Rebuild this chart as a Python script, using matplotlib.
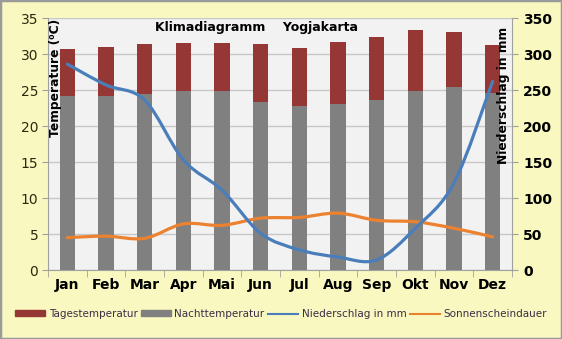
"""Klimadiagramm Yogjakarta - Temperatur, Niederschlag, Sonnenscheindauer."""

import matplotlib
matplotlib.use("Agg")
import matplotlib.pyplot as plt
import numpy as np
from matplotlib.patches import PathPatch, Rectangle
from matplotlib.path import Path
from matplotlib.lines import Line2D

MONTHS = ["Jan", "Feb", "Mar", "Apr", "Mai", "Jun", "Jul", "Aug", "Sep", "Okt", "Nov", "Dez"]
DAY_TEMP = [30.7, 31.0, 31.4, 31.5, 31.5, 31.4, 30.9, 31.7, 32.3, 33.3, 33.1, 31.3]
NIGHT_TEMP = [24.2, 24.2, 24.4, 24.8, 24.8, 23.4, 22.8, 23.0, 23.6, 24.8, 25.4, 24.6]
RAIN_MM = [286, 257, 236, 153, 111, 51, 28, 18, 14, 58, 121, 262]
SUNSHINE = [45, 47, 44, 64, 62, 72, 73, 79, 69, 67, 58, 46]

FIG_BG = "#f8f8c0"
PLOT_BG = "#f2f2f2"
RED = "#953735"
GRAY = "#808080"
BLUE = "#4a7ebb"
ORANGE = "#ec8230"


def smooth_path(x, y):
    # Catmull-Rom curve through the points, drawn as cubic bezier segments
    pts = np.column_stack([x, y]).astype(float)
    verts = [pts[0]]
    codes = [Path.MOVETO]
    n = len(pts)
    for i in range(n - 1):
        p0 = pts[i - 1] if i > 0 else pts[i]
        p1, p2 = pts[i], pts[i + 1]
        p3 = pts[i + 2] if i + 2 < n else pts[i + 1]
        c1 = p1 + (p2 - p0) / 6.0
        c2 = p2 - (p3 - p1) / 6.0
        verts += [c1, c2, p2]
        codes += [Path.CURVE4] * 3
    return Path(verts, codes)


fig = plt.figure(figsize=(5.62, 3.39), dpi=100, facecolor=FIG_BG)
fig.patches.append(Rectangle((0, 0), 1, 1, transform=fig.transFigure, fill=False,
                             edgecolor="#9a9a9a", linewidth=2.5))

ax = fig.add_axes([48 / 562, 1 - 270 / 339, 464 / 562, 252 / 339])
ax.set_facecolor(PLOT_BG)
x = np.arange(len(MONTHS))
night = np.array(NIGHT_TEMP)
day = np.array(DAY_TEMP)

ax.bar(x, night, width=0.39, color=GRAY, zorder=2)
ax.bar(x, day - night, bottom=night, width=0.39, color=RED, zorder=2)

ax.set_xlim(-0.5, 11.5)
ax.set_ylim(0, 35)
ax.set_yticks(np.arange(0, 36, 5))
ax.set_xticks(x, MONTHS, fontweight="bold", fontsize=10, color="black")
ax.set_xticks(np.arange(-0.5, 12, 1), minor=True)
ax.tick_params(axis="x", which="major", length=0, pad=6)
ax.tick_params(axis="x", which="minor", length=5, color="#a0a0a0", direction="out")
ax.tick_params(axis="y", length=4, color="#a0a0a0", labelsize=10, labelcolor="#2a2a10", pad=3)
ax.grid(axis="y", color="#c8c8c8", linewidth=1, zorder=0)
for side in ("top", "right"):
    ax.spines[side].set_visible(False)
for side in ("left", "bottom"):
    ax.spines[side].set_color("#a0a0a0")

ax2 = ax.twinx()
ax2.set_ylim(0, 350)
ax2.set_yticks(np.arange(0, 351, 50))
ax2.tick_params(axis="y", length=4, color="#a0a0a0", labelsize=10, pad=4)
for lab in ax2.get_yticklabels():
    lab.set_fontweight("bold")
for side in ("top", "left", "bottom"):
    ax2.spines[side].set_visible(False)
ax2.spines["right"].set_color("#a0a0a0")

ax2.add_patch(PathPatch(smooth_path(x, SUNSHINE), fill=False, edgecolor=ORANGE,
                        linewidth=2.3, zorder=3, capstyle="round"))
ax2.add_patch(PathPatch(smooth_path(x, RAIN_MM), fill=False, edgecolor=BLUE,
                        linewidth=2.3, zorder=4, capstyle="round"))

fig.text(155 / 562, 1 - 28 / 339, "Klimadiagramm    Yogjakarta", fontsize=9,
         fontweight="bold", va="center", ha="left")
fig.text(56 / 562, 1 - 78 / 339, "Temperature (\u2070C)", rotation=90, fontsize=8.8,
         fontweight="bold", va="center", ha="center")
fig.text(504 / 562, 1 - 95 / 339, "Niederschlag in mm", rotation=90, fontsize=8.8,
         fontweight="bold", va="center", ha="center")

handles = [
    Rectangle((0, 0), 1, 1, color=RED),
    Rectangle((0, 0), 1, 1, color=GRAY),
    Line2D([], [], color=BLUE, linewidth=1.5),
    Line2D([], [], color=ORANGE, linewidth=1.5),
]
labels = ["Tagestemperatur", "Nachttemperatur", "Niederschlag in mm", "Sonnenscheindauer"]
fig.legend(handles, labels, loc="center", bbox_to_anchor=(0.5, 1 - 314 / 339), ncol=4,
           frameon=False, fontsize=7.5, labelcolor="#3c2c48", handlelength=2.9,
           handleheight=0.5, handletextpad=0.3, columnspacing=0.35)

fig.savefig("out.png", dpi=100, facecolor=FIG_BG)
